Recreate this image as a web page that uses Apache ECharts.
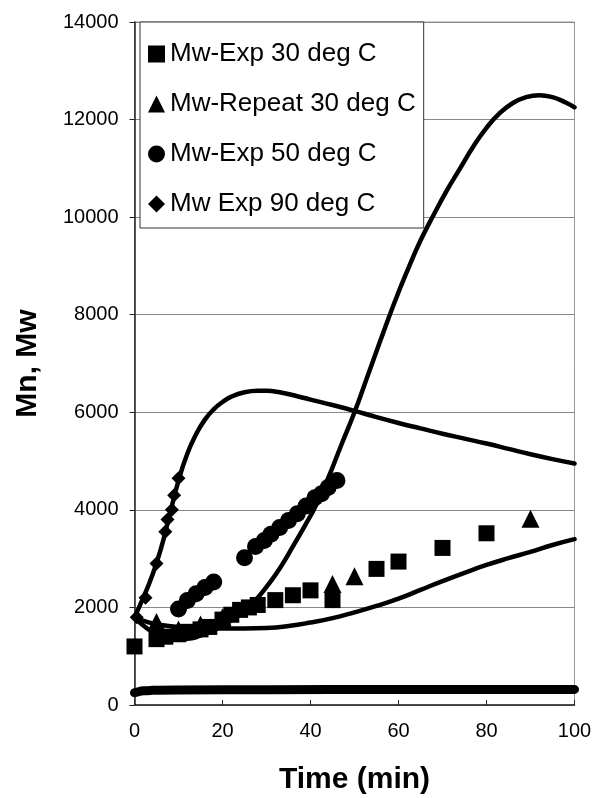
<!DOCTYPE html>
<html>
<head>
<meta charset="utf-8">
<script src="https://cdn.jsdelivr.net/npm/echarts@6/dist/echarts.min.js"></script>
<style>
  html, body { margin: 0; padding: 0; background: #fff; }
  #main { width: 593px; height: 798px; }
</style>
</head>
<body>
<div id="main"></div>
<script>
// measured points (Mw)
var exp30Time = [0, 5, 7, 10, 12, 15, 17, 20, 22, 24, 26, 28, 32, 36, 40, 45, 55, 60, 70, 80]
var exp30Mw = [1200, 1350, 1400, 1450, 1500, 1550, 1600, 1750, 1850, 1950, 2000, 2050, 2150, 2250, 2350, 2150, 2790, 2940, 3220, 3520]

var rep30Time = [5, 10, 15, 20, 45, 50, 90]
var rep30Mw = [1700, 1550, 1650, 1800, 2480, 2640, 3820]

var exp50Time = [10, 12, 14, 16, 18, 25, 27.5, 29.5, 31, 33, 35, 37, 39, 41, 42.5, 44, 46]
var exp50Mw = [1970, 2140, 2280, 2410, 2520, 3020, 3250, 3370, 3500, 3640, 3780, 3920, 4080, 4250, 4330, 4460, 4600]

var exp90Time = [0.5, 2.5, 5, 7, 7.5, 8.5, 9, 10]
var exp90Mw = [1800, 2200, 2900, 3550, 3800, 4000, 4300, 4650]

// model curves
var fit90Time = [0, 2, 4, 6, 8, 10, 12, 14, 16, 18, 20, 22, 25, 28, 30, 33, 37, 40, 45, 50, 55, 60, 65, 70, 75, 80, 85, 90, 95, 100]
var fit90Mw = [1800, 2200, 2650, 3200, 3900, 4600, 5150, 5550, 5850, 6060, 6210, 6320, 6410, 6440, 6440, 6410, 6330, 6260, 6150, 6030, 5900, 5780, 5670, 5560, 5460, 5360, 5250, 5140, 5040, 4950]

var fit50Time = [0, 3, 6, 9, 12, 15, 18, 21, 24, 26, 28, 30, 33, 36, 39, 41, 44, 47, 50, 53, 56, 59, 62, 65, 68, 71, 74, 77, 80, 83, 86, 89, 92, 95, 98, 100]
var fit50Mw = [1800, 1560, 1420, 1360, 1360, 1420, 1530, 1680, 1850, 2000, 2200, 2420, 2800, 3250, 3720, 4050, 4650, 5330, 6000, 6750, 7500, 8230, 8900, 9520, 10050, 10550, 11000, 11450, 11830, 12130, 12340, 12460, 12500, 12460, 12350, 12250]

var fit30Time = [0, 3, 6, 10, 15, 20, 25, 30, 35, 40, 45, 50, 55, 60, 65, 70, 75, 80, 85, 90, 95, 100]
var fit30Mw = [1800, 1700, 1640, 1600, 1580, 1570, 1570, 1580, 1620, 1690, 1780, 1900, 2030, 2180, 2360, 2540, 2710, 2870, 3010, 3140, 3280, 3400]

var mnTime = [0, 1, 2, 4, 10, 30, 60, 100]
var mnVal = [250, 275, 290, 300, 310, 315, 318, 320]

var legendNames = ['Mw-Exp 30 deg C', 'Mw-Repeat 30 deg C', 'Mw-Exp 50 deg C', 'Mw Exp 90 deg C']

function pairs (xs, ys) {
  var out = []
  for (var i = 0; i < xs.length; i++) {
    out.push([xs[i], ys[i]])
  }
  return out
}

function curve (xs, ys, width) {
  return {
    type: 'line',
    data: pairs(xs, ys),
    smooth: 0.5,
    showSymbol: false,
    silent: true,
    z: 2,
    lineStyle: { color: '#000', width: width, cap: 'round' }
  }
}

function points (name, xs, ys, symbol, size) {
  return {
    name: name,
    type: 'scatter',
    data: pairs(xs, ys),
    symbol: symbol,
    symbolSize: size,
    z: 3,
    itemStyle: { color: '#000', opacity: 1 }
  }
}

var myChart = echarts.init(document.getElementById('main'))

var option = {
  animation: false,
  backgroundColor: '#fff',
  textStyle: { fontFamily: 'Liberation Sans, Arial, sans-serif' },
  grid: {
    left: 134.5, right: 18.5, top: 22, bottom: 93,
    outerBoundsMode: 'none',
    show: true, borderColor: '#999', borderWidth: 1
  },
  legend: {
    orient: 'vertical',
    left: 140,
    top: 22,
    data: [
      { name: legendNames[0], icon: 'rect' },
      { name: legendNames[1], icon: 'triangle' },
      { name: legendNames[2], icon: 'circle' },
      { name: legendNames[3], icon: 'diamond' }
    ],
    itemWidth: 17,
    itemHeight: 17,
    itemGap: 24,
    padding: [19, 8, 11, 8],
    backgroundColor: '#fff',
    borderColor: '#333',
    borderWidth: 1,
    selectedMode: false,
    itemStyle: { opacity: 1 },
    textStyle: { fontSize: 26, color: '#000', lineHeight: 24, fontFamily: 'Liberation Sans, Arial, sans-serif' }
  },
  xAxis: {
    type: 'value',
    min: 0,
    max: 100,
    interval: 20,
    name: 'Time (min)',
    nameLocation: 'middle',
    nameGap: 60,
    nameTextStyle: { fontSize: 30, fontWeight: 'bold', color: '#000' },
    axisLine: { lineStyle: { color: '#222', width: 1.5 } },
    axisTick: { inside: true, length: 5, lineStyle: { color: '#222' } },
    axisLabel: { fontSize: 20, color: '#000', margin: 16 },
    splitLine: { show: false }
  },
  yAxis: {
    type: 'value',
    min: 0,
    max: 14000,
    interval: 2000,
    name: 'Mn, Mw',
    nameLocation: 'middle',
    nameGap: 92,
    nameTextStyle: { fontSize: 30, fontWeight: 'bold', color: '#000' },
    axisLine: { show: true, lineStyle: { color: '#222', width: 1.5 } },
    axisTick: { show: true, length: 5, lineStyle: { color: '#222' } },
    axisLabel: {
      fontSize: 20,
      color: '#000',
      margin: 16,
      formatter: function (v) { return String(v) }
    },
    splitLine: { show: true, lineStyle: { color: '#888', width: 1 } }
  },
  series: [
    curve(mnTime, mnVal, 9),
    curve(fit30Time, fit30Mw, 4.5),
    curve(fit50Time, fit50Mw, 4.5),
    curve(fit90Time, fit90Mw, 4.5),
    points(legendNames[0], exp30Time, exp30Mw, 'rect', 16),
    points(legendNames[1], rep30Time, rep30Mw, 'triangle', 18),
    points(legendNames[2], exp50Time, exp50Mw, 'circle', 17),
    points(legendNames[3], exp90Time, exp90Mw, 'diamond', 14)
  ]
}

myChart.setOption(option)

window.onresize = function () {
  myChart.resize()
}
</script>
</body>
</html>
